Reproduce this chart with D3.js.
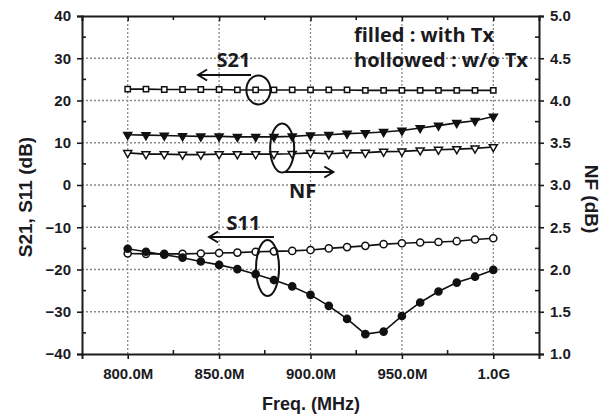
<!DOCTYPE html>
<html><head><meta charset="utf-8">
<script src="https://cdn.jsdelivr.net/npm/d3@7"></script>
<style>body{margin:0;background:#fff}svg{display:block}</style>
</head><body><svg id="c" width="613" height="419"></svg>
<script>
const freqs = [800,810,820,830,840,850,860,870,880,890,900,910,920,930,940,950,960,970,980,990,1000];
const s21 = [22.7,22.7,22.6,22.6,22.6,22.6,22.5,22.5,22.5,22.5,22.5,22.5,22.5,22.4,22.4,22.4,22.4,22.4,22.4,22.4,22.4];
const nfTx = [3.595,3.59,3.585,3.58,3.575,3.575,3.57,3.57,3.57,3.575,3.588,3.595,3.608,3.615,3.628,3.645,3.675,3.703,3.735,3.76,3.81];
const nfNoTx = [3.38,3.365,3.365,3.36,3.36,3.365,3.365,3.365,3.365,3.37,3.38,3.37,3.38,3.383,3.395,3.398,3.41,3.418,3.425,3.433,3.45];
const s11Tx = [-15.1,-15.8,-16.5,-17.2,-18.1,-18.9,-19.9,-21.1,-22.5,-24.0,-26.0,-28.6,-31.7,-35.3,-34.7,-31.0,-27.8,-25.2,-23.1,-21.7,-20.1];
const s11NoTx = [-16.2,-16.3,-16.3,-16.3,-16.2,-16.1,-16.0,-15.8,-15.7,-15.6,-15.4,-15.0,-14.7,-14.4,-14.0,-13.8,-13.6,-13.5,-13.3,-12.9,-12.6];
const xTicks = [800,850,900,950,1000];
const xTickLabels = ["800.0M","850.0M","900.0M","950.0M","1.0G"];
const xMinor = [825,875,925,975];
const yLTicks = [-40,-30,-20,-10,0,10,20,30,40];
const yRTicks = [1.0,1.5,2.0,2.5,3.0,3.5,4.0,4.5,5.0];
const yMinor = [-35,-25,-15,-5,5,15,25,35];

const svg = d3.select("#c");
const L=82, R=539, T=16, B=354;
const x = d3.scaleLinear().domain([775,1025]).range([L,R]);
const yL = d3.scaleLinear().domain([-40,40]).range([B,T]);
const yR = d3.scaleLinear().domain([1,5]).range([B,T]);
const ink = "#1b1b1f";
const tickFont = "bold 15px 'Liberation Sans', Arial, sans-serif";

// grid
const g = svg.append("g");
g.selectAll(".gx").data(xTicks).enter().append("line")
 .attr("x1",d=>x(d)).attr("x2",d=>x(d)).attr("y1",T).attr("y2",B)
 .attr("stroke","#8a8a8a").attr("stroke-width",1.3).attr("stroke-dasharray","2,2");
g.selectAll(".gy").data(yLTicks.slice(1,-1)).enter().append("line")
 .attr("x1",L).attr("x2",R).attr("y1",d=>yL(d)).attr("y2",d=>yL(d))
 .attr("stroke","#8a8a8a").attr("stroke-width",1.3).attr("stroke-dasharray","2,2");

// axes
const axB = d3.axisBottom(x).tickValues(xTicks).tickFormat((d,i)=>xTickLabels[i]).tickSize(5).tickPadding(9);
const axT = d3.axisTop(x).tickValues(xTicks).tickFormat("").tickSize(-5);
const axL = d3.axisLeft(yL).tickValues(yLTicks).tickFormat(d3.format("d")).tickSize(5).tickPadding(6);
const axR = d3.axisRight(yR).tickValues(yRTicks).tickFormat(d3.format(".1f")).tickSize(5).tickPadding(6);
function styleAx(sel){
  sel.select(".domain").attr("stroke",ink).attr("stroke-width",2);
  sel.selectAll(".tick line").attr("stroke",ink).attr("stroke-width",1.6);
  sel.selectAll("text").style("font",tickFont).attr("fill",ink);
}
svg.append("g").attr("transform",`translate(0,${B})`).call(axB).call(styleAx);
svg.append("g").attr("transform",`translate(0,${T})`).call(axT).call(styleAx);
svg.append("g").attr("transform",`translate(${L},0)`).call(axL).call(styleAx);
svg.append("g").attr("transform",`translate(${R},0)`).call(axR).call(styleAx);
// minor ticks (inward)
const mk = svg.append("g").attr("stroke",ink).attr("stroke-width",1.6);
mk.selectAll(".mb").data(xMinor).enter().append("line")
 .attr("x1",d=>x(d)).attr("x2",d=>x(d)).attr("y1",B).attr("y2",B-4);
mk.selectAll(".mt").data(xMinor).enter().append("line")
 .attr("x1",d=>x(d)).attr("x2",d=>x(d)).attr("y1",T).attr("y2",T+4);
mk.selectAll(".ml").data(yMinor).enter().append("line")
 .attr("x1",L).attr("x2",L+4).attr("y1",d=>yL(d)).attr("y2",d=>yL(d));
mk.selectAll(".mr").data(yMinor).enter().append("line")
 .attr("x1",R).attr("x2",R-4).attr("y1",d=>yL(d)).attr("y2",d=>yL(d));

// series
function series(vals, yS, shape, filled){
  const pts = freqs.map((f,i)=>[x(f), yS(vals[i])]);
  const gg = svg.append("g");
  gg.append("path").attr("d", d3.line()(pts)).attr("fill","none").attr("stroke","#111").attr("stroke-width",1.6);
  const sym = d3.symbol().type(shape==="sq"?d3.symbolSquare:(shape==="tri"?d3.symbolTriangle:d3.symbolCircle))
     .size(shape==="sq"?28:(shape==="tri"?28:40));
  gg.selectAll("path.m").data(pts).enter().append("path").attr("class","m")
   .attr("d",sym)
   .attr("transform",d=>`translate(${d[0]},${d[1]})`+(shape==="tri"?" rotate(180)":""))
   .attr("fill",filled?"#111":"#fff").attr("stroke","#111").attr("stroke-width",1.5);
}
series(s21, yL, "sq", false);
series(nfNoTx, yR, "tri", false);
series(nfTx, yR, "tri", true);
series(s11NoTx, yL, "circ", false);
series(s11Tx, yL, "circ", true);

// annotations
const ann = svg.append("g").attr("stroke","#111").attr("fill","none").attr("stroke-width",2);
function arrow(x1,y,x2){
  ann.append("line").attr("x1",x1).attr("x2",x2).attr("y1",y).attr("y2",y);
  const dir = x2<x1?1:-1;
  ann.append("polyline").attr("points",`${x2+dir*9},${y-5.5} ${x2},${y} ${x2+dir*9},${y+5.5}`);
}
// S21
ann.append("ellipse").attr("cx",x(871.5)).attr("cy",yL(22.5)).attr("rx",12).attr("ry",14.5);
arrow(x(867.5), 75, x(838.5));
// NF
ann.append("ellipse").attr("cx",x(884.5)).attr("cy",148).attr("rx",12).attr("ry",24.5);
arrow(x(886), 172, x(912.5));
// S11
ann.append("ellipse").attr("cx",x(876.5)).attr("cy",268).attr("rx",11.5).attr("ry",28);
arrow(x(880), 237, x(844.5));

const annFont = "bold 20px 'Open Sans', 'Noto Sans', sans-serif";
const txt = svg.append("g").style("font",annFont).attr("fill",ink);
txt.append("text").attr("x",233.5).attr("y",67).attr("text-anchor","middle").text("S21");
txt.append("text").attr("x",302.5).attr("y",198).attr("text-anchor","middle").text("NF");
txt.append("text").attr("x",243.5).attr("y",230).attr("text-anchor","middle").text("S11");
txt.append("text").attr("x",354).attr("y",42).text("filled : with Tx");
txt.append("text").attr("x",354).attr("y",67).text("hollowed : w/o Tx");

// axis titles
svg.append("text").attr("transform","translate(32,197) rotate(-90)").attr("text-anchor","middle")
 .style("font","bold 19px 'Liberation Sans', Arial, sans-serif").attr("fill",ink).text("S21, S11 (dB)");
svg.append("text").attr("transform","translate(585,199) rotate(90)").attr("text-anchor","middle")
 .style("font","bold 19px 'Liberation Sans', Arial, sans-serif").attr("fill",ink).text("NF (dB)");
svg.append("text").attr("x",311).attr("y",410).attr("text-anchor","middle")
 .style("font","bold 18px 'Liberation Sans', Arial, sans-serif").attr("fill",ink).text("Freq. (MHz)");
</script></body></html>
